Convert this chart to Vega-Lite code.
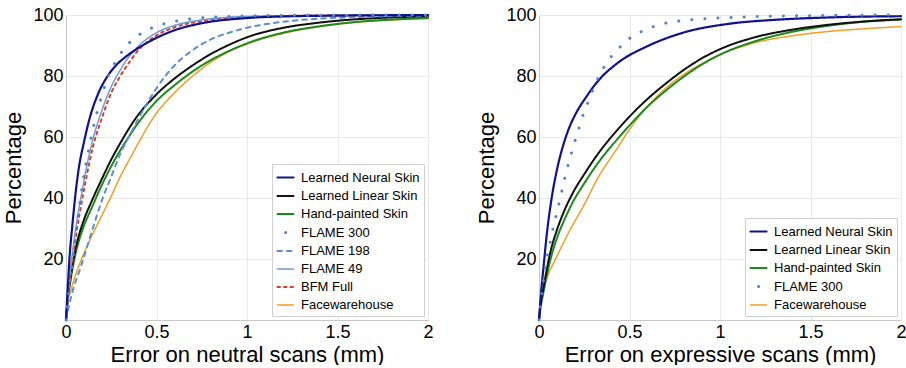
{
  "$schema": "https://vega.github.io/schema/vega-lite/v6.json",
  "background": "white",
  "padding": {"left": 2, "top": 6, "right": 0, "bottom": 0},
  "bounds": "flush",
  "spacing": 111,
  "config": {
    "font": "Liberation Sans",
    "view": {"stroke": null},
    "axis": {
      "labelFont": "Liberation Sans", "titleFont": "Liberation Sans",
      "labelFontSize": 18, "titleFontSize": 22, "titleFontWeight": "normal",
      "labelColor": "#000", "titleColor": "#000",
      "ticks": false, "domainColor": "#c8c8c8", "gridColor": "#e9e9e9", "gridWidth": 1
    },
    "legend": {
      "symbolType": "stroke", "symbolSize": 256, "symbolStrokeWidth": 3,
      "labelFont": "Liberation Sans", "labelFontSize": 13, "labelColor": "#000",
      "rowPadding": 2, "padding": 4, "labelOffset": 6,
      "strokeColor": "#d0d0d0", "fillColor": "white", "orient": "bottom-right", "offset": 4, "title": null
    }
  },
  "datasets": {
    "neutral": [
      {"s":"Facewarehouse","x":0,"y":0},{"s":"Facewarehouse","x":0.005,"y":4},{"s":"Facewarehouse","x":0.028,"y":10},{"s":"Facewarehouse","x":0.06,"y":16},{"s":"Facewarehouse","x":0.1,"y":22},{"s":"Facewarehouse","x":0.138,"y":27},{"s":"Facewarehouse","x":0.2,"y":34.5},{"s":"Facewarehouse","x":0.25,"y":40.6},{"s":"Facewarehouse","x":0.3,"y":47},{"s":"Facewarehouse","x":0.36,"y":53.7},{"s":"Facewarehouse","x":0.4,"y":58},{"s":"Facewarehouse","x":0.47,"y":65.2},{"s":"Facewarehouse","x":0.5,"y":67.8},{"s":"Facewarehouse","x":0.6,"y":74.5},{"s":"Facewarehouse","x":0.7,"y":80},{"s":"Facewarehouse","x":0.8,"y":84.5},{"s":"Facewarehouse","x":0.9,"y":88},{"s":"Facewarehouse","x":1.0,"y":90.5},{"s":"Facewarehouse","x":1.2,"y":94},{"s":"Facewarehouse","x":1.4,"y":96.2},{"s":"Facewarehouse","x":1.6,"y":97.6},{"s":"Facewarehouse","x":1.8,"y":98.4},{"s":"Facewarehouse","x":2.0,"y":98.9},
      {"s":"Hand-painted Skin","x":0,"y":0},{"s":"Hand-painted Skin","x":0.01,"y":7},{"s":"Hand-painted Skin","x":0.025,"y":13},{"s":"Hand-painted Skin","x":0.05,"y":21},{"s":"Hand-painted Skin","x":0.1,"y":31},{"s":"Hand-painted Skin","x":0.14,"y":36.5},{"s":"Hand-painted Skin","x":0.2,"y":44.5},{"s":"Hand-painted Skin","x":0.27,"y":52.6},{"s":"Hand-painted Skin","x":0.33,"y":58.5},{"s":"Hand-painted Skin","x":0.41,"y":65.5},{"s":"Hand-painted Skin","x":0.5,"y":71.8},{"s":"Hand-painted Skin","x":0.6,"y":77},{"s":"Hand-painted Skin","x":0.7,"y":81.5},{"s":"Hand-painted Skin","x":0.8,"y":85.2},{"s":"Hand-painted Skin","x":0.9,"y":88.2},{"s":"Hand-painted Skin","x":1.0,"y":90.7},{"s":"Hand-painted Skin","x":1.2,"y":94.2},{"s":"Hand-painted Skin","x":1.4,"y":96.3},{"s":"Hand-painted Skin","x":1.6,"y":97.7},{"s":"Hand-painted Skin","x":1.8,"y":98.5},{"s":"Hand-painted Skin","x":2.0,"y":99},
      {"s":"Learned Linear Skin","x":0,"y":0},{"s":"Learned Linear Skin","x":0.01,"y":7.5},{"s":"Learned Linear Skin","x":0.025,"y":14},{"s":"Learned Linear Skin","x":0.05,"y":22.5},{"s":"Learned Linear Skin","x":0.1,"y":33},{"s":"Learned Linear Skin","x":0.14,"y":38.7},{"s":"Learned Linear Skin","x":0.2,"y":46.5},{"s":"Learned Linear Skin","x":0.25,"y":52.6},{"s":"Learned Linear Skin","x":0.3,"y":58},{"s":"Learned Linear Skin","x":0.38,"y":65.7},{"s":"Learned Linear Skin","x":0.5,"y":74},{"s":"Learned Linear Skin","x":0.6,"y":79.2},{"s":"Learned Linear Skin","x":0.7,"y":83.5},{"s":"Learned Linear Skin","x":0.8,"y":87.2},{"s":"Learned Linear Skin","x":0.9,"y":90.2},{"s":"Learned Linear Skin","x":1.0,"y":92.7},{"s":"Learned Linear Skin","x":1.2,"y":95.8},{"s":"Learned Linear Skin","x":1.4,"y":97.5},{"s":"Learned Linear Skin","x":1.6,"y":98.6},{"s":"Learned Linear Skin","x":1.8,"y":99.2},{"s":"Learned Linear Skin","x":2.0,"y":99.6},
      {"s":"FLAME 198","x":0,"y":0},{"s":"FLAME 198","x":0.03,"y":8},{"s":"FLAME 198","x":0.085,"y":18},{"s":"FLAME 198","x":0.14,"y":28.5},{"s":"FLAME 198","x":0.2,"y":39.5},{"s":"FLAME 198","x":0.25,"y":47},{"s":"FLAME 198","x":0.3,"y":54.5},{"s":"FLAME 198","x":0.36,"y":61.5},{"s":"FLAME 198","x":0.4,"y":66},{"s":"FLAME 198","x":0.5,"y":76},{"s":"FLAME 198","x":0.6,"y":83.5},{"s":"FLAME 198","x":0.7,"y":88.5},{"s":"FLAME 198","x":0.8,"y":92},{"s":"FLAME 198","x":0.9,"y":94.2},{"s":"FLAME 198","x":1.0,"y":95.8},{"s":"FLAME 198","x":1.2,"y":97.8},{"s":"FLAME 198","x":1.4,"y":98.8},{"s":"FLAME 198","x":1.6,"y":99.3},{"s":"FLAME 198","x":2.0,"y":99.8},
      {"s":"BFM Full","x":0,"y":0},{"s":"BFM Full","x":0.02,"y":12},{"s":"BFM Full","x":0.04,"y":21},{"s":"BFM Full","x":0.06,"y":29.5},{"s":"BFM Full","x":0.085,"y":38},{"s":"BFM Full","x":0.115,"y":47.5},{"s":"BFM Full","x":0.15,"y":57},{"s":"BFM Full","x":0.2,"y":66.5},{"s":"BFM Full","x":0.25,"y":74.5},{"s":"BFM Full","x":0.3,"y":80},{"s":"BFM Full","x":0.35,"y":84.5},{"s":"BFM Full","x":0.4,"y":88.5},{"s":"BFM Full","x":0.45,"y":91.2},{"s":"BFM Full","x":0.5,"y":93.3},{"s":"BFM Full","x":0.6,"y":96},{"s":"BFM Full","x":0.75,"y":98},{"s":"BFM Full","x":1.0,"y":99.4},{"s":"BFM Full","x":1.5,"y":99.9},{"s":"BFM Full","x":2.0,"y":100},
      {"s":"FLAME 49","x":0,"y":0},{"s":"FLAME 49","x":0.02,"y":14},{"s":"FLAME 49","x":0.04,"y":24},{"s":"FLAME 49","x":0.06,"y":32.5},{"s":"FLAME 49","x":0.085,"y":41},{"s":"FLAME 49","x":0.115,"y":50.5},{"s":"FLAME 49","x":0.15,"y":59.5},{"s":"FLAME 49","x":0.18,"y":65.5},{"s":"FLAME 49","x":0.2,"y":69},{"s":"FLAME 49","x":0.25,"y":76.5},{"s":"FLAME 49","x":0.3,"y":82},{"s":"FLAME 49","x":0.35,"y":86.5},{"s":"FLAME 49","x":0.4,"y":89.8},{"s":"FLAME 49","x":0.45,"y":92.3},{"s":"FLAME 49","x":0.5,"y":94.2},{"s":"FLAME 49","x":0.6,"y":96.6},{"s":"FLAME 49","x":0.75,"y":98.4},{"s":"FLAME 49","x":1.0,"y":99.5},{"s":"FLAME 49","x":1.5,"y":99.9},{"s":"FLAME 49","x":2.0,"y":100},
      {"s":"Learned Neural Skin","x":0,"y":0},{"s":"Learned Neural Skin","x":0.01,"y":11},{"s":"Learned Neural Skin","x":0.02,"y":21},{"s":"Learned Neural Skin","x":0.035,"y":31},{"s":"Learned Neural Skin","x":0.05,"y":40},{"s":"Learned Neural Skin","x":0.07,"y":49.5},{"s":"Learned Neural Skin","x":0.1,"y":58.5},{"s":"Learned Neural Skin","x":0.13,"y":66},{"s":"Learned Neural Skin","x":0.18,"y":74.5},{"s":"Learned Neural Skin","x":0.23,"y":80},{"s":"Learned Neural Skin","x":0.28,"y":83.7},{"s":"Learned Neural Skin","x":0.33,"y":86.3},{"s":"Learned Neural Skin","x":0.4,"y":89.2},{"s":"Learned Neural Skin","x":0.5,"y":92.5},{"s":"Learned Neural Skin","x":0.6,"y":95},{"s":"Learned Neural Skin","x":0.75,"y":97.3},{"s":"Learned Neural Skin","x":1.0,"y":99},{"s":"Learned Neural Skin","x":1.25,"y":99.6},{"s":"Learned Neural Skin","x":1.5,"y":99.8},{"s":"Learned Neural Skin","x":2.0,"y":100},
      {"s":"FLAME 300","x":0,"y":0},{"s":"FLAME 300","x":0.025,"y":14},{"s":"FLAME 300","x":0.05,"y":26},{"s":"FLAME 300","x":0.07,"y":35.5},{"s":"FLAME 300","x":0.092,"y":44.8},{"s":"FLAME 300","x":0.127,"y":56.5},{"s":"FLAME 300","x":0.164,"y":66.3},{"s":"FLAME 300","x":0.2,"y":74},{"s":"FLAME 300","x":0.234,"y":80},{"s":"FLAME 300","x":0.276,"y":85},{"s":"FLAME 300","x":0.31,"y":88.1},{"s":"FLAME 300","x":0.35,"y":90.9},{"s":"FLAME 300","x":0.39,"y":92.9},{"s":"FLAME 300","x":0.433,"y":94.6},{"s":"FLAME 300","x":0.49,"y":96.1},{"s":"FLAME 300","x":0.6,"y":97.9},{"s":"FLAME 300","x":0.7,"y":98.8},{"s":"FLAME 300","x":0.85,"y":99.4},{"s":"FLAME 300","x":1.0,"y":99.7},{"s":"FLAME 300","x":1.3,"y":99.9},{"s":"FLAME 300","x":2.0,"y":100}
    ],
    "expressive": [
      {"s":"Facewarehouse","x":0,"y":0},{"s":"Facewarehouse","x":0.005,"y":5},{"s":"Facewarehouse","x":0.013,"y":7.8},{"s":"Facewarehouse","x":0.041,"y":13.3},{"s":"Facewarehouse","x":0.1,"y":21},{"s":"Facewarehouse","x":0.173,"y":29.7},{"s":"Facewarehouse","x":0.247,"y":37.5},{"s":"Facewarehouse","x":0.32,"y":46},{"s":"Facewarehouse","x":0.44,"y":57},{"s":"Facewarehouse","x":0.5,"y":62.5},{"s":"Facewarehouse","x":0.6,"y":70},{"s":"Facewarehouse","x":0.7,"y":76},{"s":"Facewarehouse","x":0.8,"y":80.5},{"s":"Facewarehouse","x":0.9,"y":84},{"s":"Facewarehouse","x":1.0,"y":87},{"s":"Facewarehouse","x":1.2,"y":91},{"s":"Facewarehouse","x":1.4,"y":93.2},{"s":"Facewarehouse","x":1.6,"y":94.6},{"s":"Facewarehouse","x":1.8,"y":95.5},{"s":"Facewarehouse","x":2.0,"y":96.2},
      {"s":"Hand-painted Skin","x":0,"y":0},{"s":"Hand-painted Skin","x":0.01,"y":4.5},{"s":"Hand-painted Skin","x":0.026,"y":9.5},{"s":"Hand-painted Skin","x":0.041,"y":14},{"s":"Hand-painted Skin","x":0.062,"y":19.5},{"s":"Hand-painted Skin","x":0.1,"y":27},{"s":"Hand-painted Skin","x":0.136,"y":32.3},{"s":"Hand-painted Skin","x":0.19,"y":39},{"s":"Hand-painted Skin","x":0.25,"y":44.8},{"s":"Hand-painted Skin","x":0.32,"y":51},{"s":"Hand-painted Skin","x":0.44,"y":59.8},{"s":"Hand-painted Skin","x":0.5,"y":63.8},{"s":"Hand-painted Skin","x":0.6,"y":70},{"s":"Hand-painted Skin","x":0.7,"y":75.2},{"s":"Hand-painted Skin","x":0.8,"y":79.8},{"s":"Hand-painted Skin","x":0.9,"y":83.8},{"s":"Hand-painted Skin","x":1.0,"y":87},{"s":"Hand-painted Skin","x":1.2,"y":91.5},{"s":"Hand-painted Skin","x":1.4,"y":94.5},{"s":"Hand-painted Skin","x":1.6,"y":96.5},{"s":"Hand-painted Skin","x":1.8,"y":97.8},{"s":"Hand-painted Skin","x":2.0,"y":98.5},
      {"s":"Learned Linear Skin","x":0,"y":0},{"s":"Learned Linear Skin","x":0.01,"y":5.5},{"s":"Learned Linear Skin","x":0.026,"y":11},{"s":"Learned Linear Skin","x":0.041,"y":16},{"s":"Learned Linear Skin","x":0.062,"y":22},{"s":"Learned Linear Skin","x":0.1,"y":29.7},{"s":"Learned Linear Skin","x":0.136,"y":35.3},{"s":"Learned Linear Skin","x":0.19,"y":42},{"s":"Learned Linear Skin","x":0.25,"y":47.8},{"s":"Learned Linear Skin","x":0.32,"y":54},{"s":"Learned Linear Skin","x":0.44,"y":62.8},{"s":"Learned Linear Skin","x":0.5,"y":66.7},{"s":"Learned Linear Skin","x":0.6,"y":72.5},{"s":"Learned Linear Skin","x":0.7,"y":77.5},{"s":"Learned Linear Skin","x":0.8,"y":82},{"s":"Learned Linear Skin","x":0.9,"y":85.8},{"s":"Learned Linear Skin","x":1.0,"y":88.8},{"s":"Learned Linear Skin","x":1.2,"y":92.8},{"s":"Learned Linear Skin","x":1.4,"y":95.2},{"s":"Learned Linear Skin","x":1.6,"y":96.8},{"s":"Learned Linear Skin","x":1.8,"y":97.9},{"s":"Learned Linear Skin","x":2.0,"y":98.6},
      {"s":"Learned Neural Skin","x":0,"y":0},{"s":"Learned Neural Skin","x":0.01,"y":8},{"s":"Learned Neural Skin","x":0.026,"y":18},{"s":"Learned Neural Skin","x":0.041,"y":27},{"s":"Learned Neural Skin","x":0.07,"y":40},{"s":"Learned Neural Skin","x":0.1,"y":49.5},{"s":"Learned Neural Skin","x":0.14,"y":58.5},{"s":"Learned Neural Skin","x":0.17,"y":63.5},{"s":"Learned Neural Skin","x":0.2,"y":67.3},{"s":"Learned Neural Skin","x":0.265,"y":73.5},{"s":"Learned Neural Skin","x":0.325,"y":78.3},{"s":"Learned Neural Skin","x":0.435,"y":84.3},{"s":"Learned Neural Skin","x":0.6,"y":89.8},{"s":"Learned Neural Skin","x":0.785,"y":94},{"s":"Learned Neural Skin","x":1.06,"y":97.2},{"s":"Learned Neural Skin","x":1.3,"y":98.4},{"s":"Learned Neural Skin","x":1.6,"y":99.2},{"s":"Learned Neural Skin","x":2.0,"y":99.6},
      {"s":"FLAME 300","x":0,"y":0},{"s":"FLAME 300","x":0.02,"y":11},{"s":"FLAME 300","x":0.04,"y":19.3},{"s":"FLAME 300","x":0.062,"y":25.5},{"s":"FLAME 300","x":0.081,"y":31},{"s":"FLAME 300","x":0.103,"y":36.2},{"s":"FLAME 300","x":0.123,"y":41.5},{"s":"FLAME 300","x":0.142,"y":46.4},{"s":"FLAME 300","x":0.162,"y":51.1},{"s":"FLAME 300","x":0.182,"y":55.3},{"s":"FLAME 300","x":0.203,"y":59.5},{"s":"FLAME 300","x":0.223,"y":63.3},{"s":"FLAME 300","x":0.241,"y":66.8},{"s":"FLAME 300","x":0.265,"y":70.5},{"s":"FLAME 300","x":0.315,"y":77.8},{"s":"FLAME 300","x":0.37,"y":84},{"s":"FLAME 300","x":0.435,"y":88.7},{"s":"FLAME 300","x":0.5,"y":92.3},{"s":"FLAME 300","x":0.59,"y":95.2},{"s":"FLAME 300","x":0.69,"y":97.2},{"s":"FLAME 300","x":0.8,"y":98.2},{"s":"FLAME 300","x":0.95,"y":98.9},{"s":"FLAME 300","x":1.1,"y":99.3},{"s":"FLAME 300","x":1.4,"y":99.7},{"s":"FLAME 300","x":2.0,"y":100}
    ]
  },
  "resolve": {"scale": {"color": "independent", "strokeDash": "independent", "strokeWidth": "independent"}},
  "hconcat": [
    {
      "width": 362, "height": 305,
      "data": {"name": "neutral"},
      "mark": {"type": "line", "interpolate": "monotone", "strokeCap": "round"},
      "encoding": {
        "x": {"field": "x", "type": "quantitative", "scale": {"domain": [0, 2], "nice": false},
              "axis": {"values": [0, 0.5, 1, 1.5, 2], "format": "~g", "title": "Error on neutral scans (mm)", "labelPadding": 3, "titlePadding": 3, "labelFlush": false}},
        "y": {"field": "y", "type": "quantitative", "scale": {"domain": [0, 100], "nice": false},
              "axis": {"values": [20, 40, 60, 80, 100], "title": "Percentage", "labelPadding": 3, "titlePadding": 7}},
        "color": {"field": "s", "type": "nominal",
          "scale": {"domain": ["Learned Neural Skin", "Learned Linear Skin", "Hand-painted Skin", "FLAME 300", "FLAME 198", "FLAME 49", "BFM Full", "Facewarehouse"],
                    "range": ["#12128e", "#111111", "#1c8a1c", "#4f86c8", "#5b8fd0", "#6d9bd6", "#d5402b", "#f0a024"]},
          "legend": {"encode": {"symbols": {"update": {"strokeCap": {"value": "round"}, "strokeDashOffset": {"signal": "datum.value === 'FLAME 300' ? -8 : 0"}}}}}},
        "strokeDash": {"field": "s", "type": "nominal",
          "scale": {"domain": ["Learned Neural Skin", "Learned Linear Skin", "Hand-painted Skin", "FLAME 300", "FLAME 198", "FLAME 49", "BFM Full", "Facewarehouse"],
                    "range": [[1, 0], [1, 0], [1, 0], [0.1, 13], [4.5, 5], [1, 0], [2.5, 4], [1, 0]]}},
        "strokeWidth": {"field": "s", "type": "nominal", "legend": null,
          "scale": {"type": "ordinal", "domain": ["Learned Neural Skin", "Learned Linear Skin", "Hand-painted Skin", "FLAME 300", "FLAME 198", "FLAME 49", "BFM Full", "Facewarehouse"],
                    "range": [2.2, 2, 2, 3, 2, 1.5, 2, 1.5]}}
      }
    },
    {
      "width": 362, "height": 305,
      "data": {"name": "expressive"},
      "mark": {"type": "line", "interpolate": "monotone", "strokeCap": "round"},
      "encoding": {
        "x": {"field": "x", "type": "quantitative", "scale": {"domain": [0, 2], "nice": false},
              "axis": {"values": [0, 0.5, 1, 1.5, 2], "format": "~g", "title": "Error on expressive scans (mm)", "labelPadding": 3, "titlePadding": 3, "labelFlush": false}},
        "y": {"field": "y", "type": "quantitative", "scale": {"domain": [0, 100], "nice": false},
              "axis": {"values": [20, 40, 60, 80, 100], "title": "Percentage", "labelPadding": 3, "titlePadding": 7}},
        "color": {"field": "s", "type": "nominal",
          "scale": {"domain": ["Learned Neural Skin", "Learned Linear Skin", "Hand-painted Skin", "FLAME 300", "Facewarehouse"],
                    "range": ["#12128e", "#111111", "#1c8a1c", "#4f86c8", "#f0a024"]},
          "legend": {"encode": {"symbols": {"update": {"strokeCap": {"value": "round"}, "strokeDashOffset": {"signal": "datum.value === 'FLAME 300' ? -8 : 0"}}}}}},
        "strokeDash": {"field": "s", "type": "nominal",
          "scale": {"domain": ["Learned Neural Skin", "Learned Linear Skin", "Hand-painted Skin", "FLAME 300", "Facewarehouse"],
                    "range": [[1, 0], [1, 0], [1, 0], [0.1, 13], [1, 0]]}},
        "strokeWidth": {"field": "s", "type": "nominal", "legend": null,
          "scale": {"type": "ordinal", "domain": ["Learned Neural Skin", "Learned Linear Skin", "Hand-painted Skin", "FLAME 300", "Facewarehouse"],
                    "range": [2.2, 2, 2, 3, 1.5]}}
      }
    }
  ]
}
